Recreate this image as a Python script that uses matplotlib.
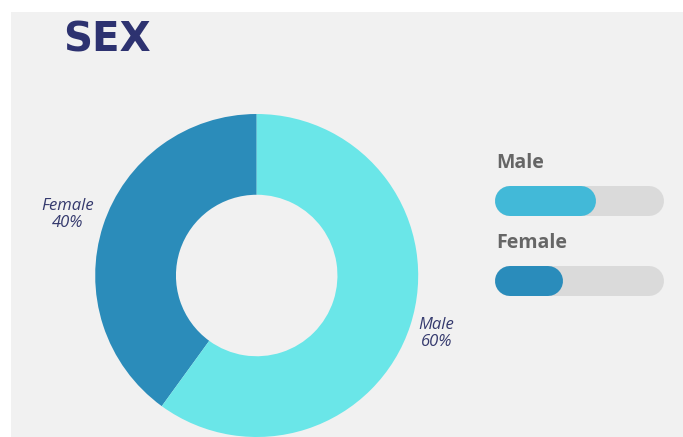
import matplotlib
matplotlib.use("Agg")
import matplotlib.pyplot as plt
from matplotlib.patches import Rectangle
import numpy as np

# ---- data ----
categories = ["Male", "Female"]
shares = [60, 40]
pie_colors = ["#6ae6e8", "#2b8cba"]
bar_colors = ["#42b9d8", "#2a8cbb"]
title = "SEX"

W, H = 683, 437
fig = plt.figure(figsize=(W / 100, H / 100), dpi=100)
fig.patch.set_facecolor("white")
fig.patches.append(Rectangle((11 / W, 0), 1 - 11 / W, 425 / H,
                             transform=fig.transFigure, facecolor="#f1f1f1",
                             edgecolor="none", zorder=-5))

fig.text(63 / W, 1 - 52 / H, title, fontsize=29, fontweight="bold",
         color="#2d3270", family="DejaVu Sans", va="baseline", ha="left")

# ---- donut ----
cx, cy, R = 256.7, 275.5, 161.5
ax = fig.add_axes([(cx - R) / W, (H - cy - R) / H, 2 * R / W, 2 * R / H])
ax.set_zorder(2)
# Female first counter-clockwise from 12 o'clock
order = [1, 0]
label_dist = [1.23, 1.17]
labels = [f"{categories[i]}\n{shares[i]}%" for i in order]
wedges, texts = ax.pie([shares[i] for i in order],
                       colors=[pie_colors[i] for i in order],
                       startangle=90, counterclock=True, radius=1,
                       wedgeprops=dict(width=0.5, edgecolor="none"),
                       labels=labels, labeldistance=1.2,
                       textprops=dict(fontsize=12, style="italic",
                                      color="#353a6e", family="Open Sans"))
for w, t, d in zip(wedges, texts, label_dist):
    ang = np.deg2rad((w.theta1 + w.theta2) / 2)
    t.set_position((d * np.cos(ang), d * np.sin(ang)))
    t.set_ha("center")
    t.set_va("center")
    t.set_multialignment("center")
    t.set_linespacing(1.1)
ax.set_xlim(-1, 1)
ax.set_ylim(-1, 1)
ax.set_aspect("equal")
ax.axis("off")

# ---- progress bars ----
x0, x1 = 495, 664
top_px, bot_px = 140, 320
row_px = [200.7, 281.0]
unit = row_px[1] - row_px[0]
bax = fig.add_axes([x0 / W, (H - bot_px) / H, (x1 - x0) / W, (bot_px - top_px) / H])
bax.set_zorder(2)
bax.set_xlim(0, 1)
bax.set_ylim((bot_px - row_px[0]) / unit, -(row_px[0] - top_px) / unit)
bax.axis("off")
bar_h_px = 30
lw_pt = bar_h_px * 72 / 100
half = (bar_h_px / 2) / (x1 - x0)
for i, (cat, v, col) in enumerate(zip(categories, shares, bar_colors)):
    bax.plot([half, 1 - half], [i, i], color="#dadada", lw=lw_pt,
             solid_capstyle="round")
    bax.plot([half, v / 100 - half], [i, i], color=col, lw=lw_pt,
             solid_capstyle="round")
    bax.text(0.01, i - 0.41, cat, fontsize=14, fontweight="bold",
             color="#666666", family="Open Sans", va="baseline", ha="left")

fig.savefig("out.png", dpi=100, facecolor="white")
